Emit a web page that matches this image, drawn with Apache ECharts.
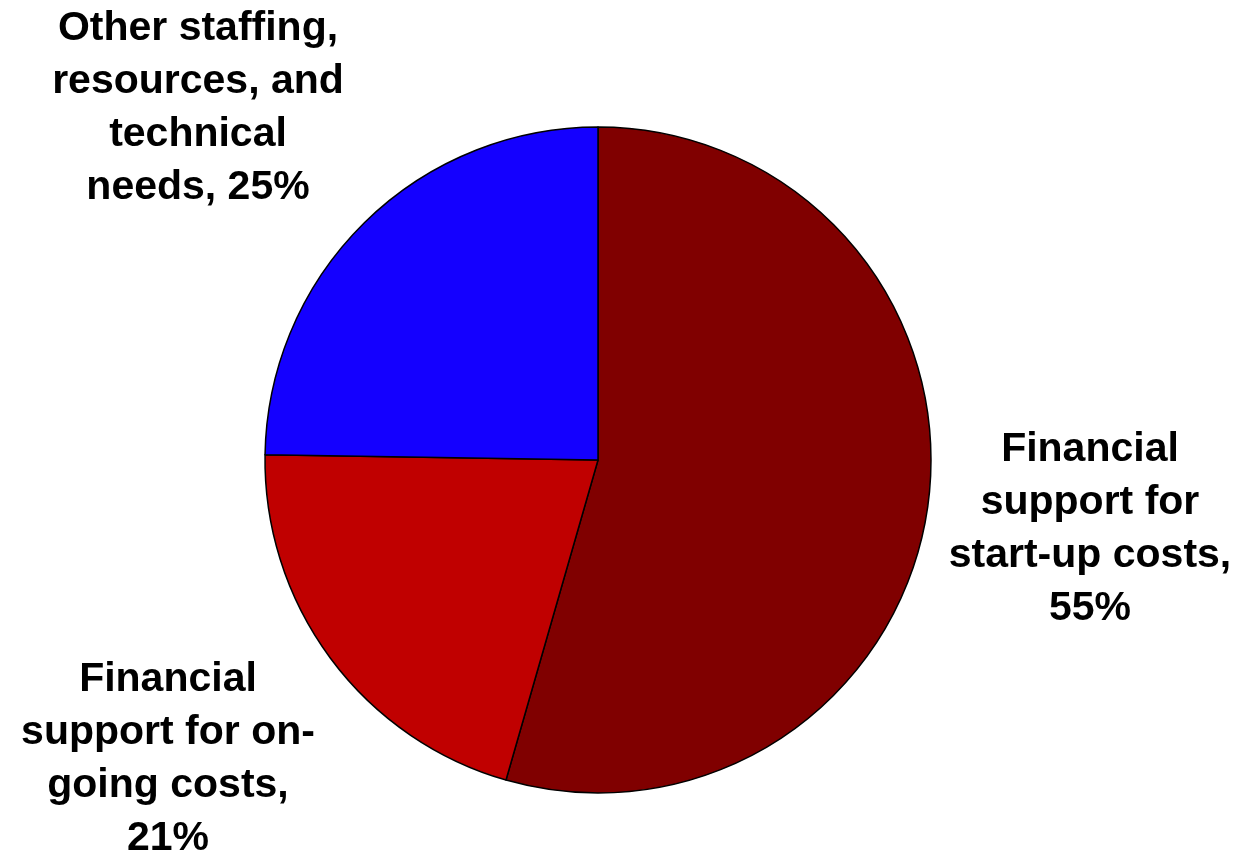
<!DOCTYPE html>
<html>
<head>
<meta charset="utf-8">
<title>Needs</title>
<script src="https://cdn.jsdelivr.net/npm/echarts@6/dist/echarts.min.js"></script>
<style>
  html, body { margin: 0; padding: 0; background: #ffffff; }
  #chart { width: 1240px; height: 856px; }
</style>
</head>
<body>
<div id="chart"></div>
<script>
// Slice names (wrapped as they appear on the chart) and their percentages
const categories = [
  'Financial\nsupport for\nstart-up costs',
  'Financial\nsupport for on-\ngoing costs',
  'Other staffing,\nresources, and\ntechnical\nneeds'
];
const values = [55, 21, 25];
// How the percentage joins the name in each label
const valueSeparators = [',\n', ',\n', ', '];
const colors = ['#800000', '#C00000', '#1400FF'];

// Label anchor points (centre of each text block)
const labelAnchors = [
  [1090, 529],
  [168, 759],
  [198, 108]
];

const chart = echarts.init(document.getElementById('chart'), null, { renderer: 'canvas' });

chart.setOption({
  animation: false,
  backgroundColor: '#ffffff',
  series: [{
    type: 'pie',
    center: [598, 460],
    radius: 333,
    startAngle: 90,
    clockwise: true,
    avoidLabelOverlap: false,
    itemStyle: { borderColor: '#000000', borderWidth: 1.5 },
    emphasis: { disabled: true },
    labelLine: { show: false },
    label: {
      show: true,
      position: 'outside',
      color: '#000000',
      fontFamily: '"Liberation Sans", Arial, sans-serif',
      fontWeight: 'bold',
      fontSize: 41,
      lineHeight: 53,
      align: 'center',
      formatter: p => p.name + valueSeparators[p.dataIndex] + p.value + '%'
    },
    labelLayout: p => ({
      x: labelAnchors[p.dataIndex][0],
      y: labelAnchors[p.dataIndex][1],
      align: 'center',
      verticalAlign: 'middle'
    }),
    data: categories.map((name, i) => ({
      name,
      value: values[i],
      itemStyle: { color: colors[i] }
    }))
  }]
});
</script>
</body>
</html>
